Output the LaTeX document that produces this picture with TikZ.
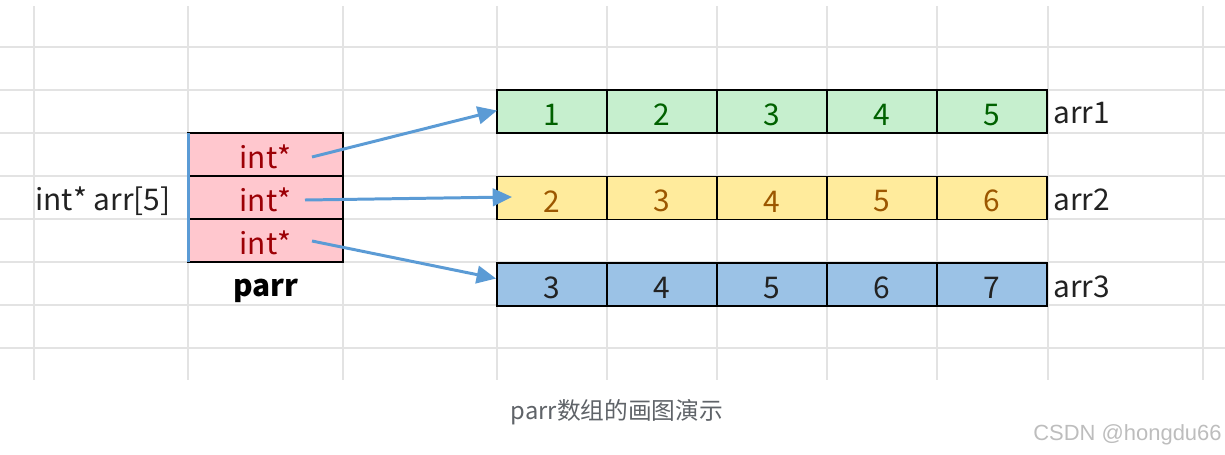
\documentclass[tikz,border=0pt]{standalone}
\usepackage{fontspec}
\setmainfont{Noto Sans CJK SC}
\newfontfamily\markfont{Liberation Sans}
\usetikzlibrary{positioning, arrows.meta, calc}

\definecolor{gridgray}{HTML}{E3E3E3}
\definecolor{ptrblue}{HTML}{5B9BD5}
\definecolor{badfill}{HTML}{FFC7CE}
\definecolor{badtext}{HTML}{9C0006}
\definecolor{goodfill}{HTML}{C6EFCE}
\definecolor{goodtext}{HTML}{006100}
\definecolor{neutfill}{HTML}{FFEB9C}
\definecolor{neuttext}{HTML}{9C5700}
\definecolor{bluefill}{HTML}{9BC2E6}
\definecolor{inktext}{HTML}{222222}
\definecolor{capgray}{HTML}{5F6368}
\definecolor{markgray}{HTML}{BDBDBD}

\begin{document}
\begin{tikzpicture}[x=0.02cm, y=-0.02cm,
    cell/.style={draw, line width=0.8pt, inner sep=0pt, outer sep=0pt,
        minimum width=2.2cm, minimum height=0.86cm, text height=16pt,
        font=\fontsize{17}{20}\selectfont},
    ptrcell/.style={cell, minimum width=3.1cm, fill=badfill, text=badtext},
    label/.style={inner sep=0pt, text=inktext, font=\fontsize{17}{20}\selectfont},
    ptr/.style={ptrblue, line width=1.7pt, -{Triangle[length=11pt, width=10pt]}}]
    \useasboundingbox (0,0) rectangle (1225,454);

    % Grid of the sheet
    \foreach \y in {47,90,...,348}
        \draw[gridgray, line width=0.8pt] (0,\y) -- (1225,\y);
    \foreach \x in {34,188,343,497,607,717,827,937,1048,1203}
        \draw[gridgray, line width=0.8pt] (\x,6) -- (\x,380);

    % Pointer array parr
    \node[ptrcell] (p1) at (265.5,154.5) {int*};
    \node[ptrcell, below=0pt of p1] (p2) {int*};
    \node[ptrcell, below=0pt of p2] (p3) {int*};
    \draw[ptrblue, line width=1.7pt] (p1.north west) -- (p3.south west);
    \node[label, font=\fontsize{17}{20}\selectfont\bfseries, text=black] (parr) at (266,291) {parr};
    \node[label, anchor=east] (decl) at (171,201) {int* arr[5]};

    % The three int arrays
    \foreach \v [count=\i] in {1,2,3,4,5}
        \node[cell, fill=goodfill, text=goodtext] (a\i) at ({442+110*\i},111.5) {\v};
    \foreach \v [count=\i] in {2,3,4,5,6}
        \node[cell, fill=neutfill, text=neuttext] (b\i) at ({442+110*\i},198) {\v};
    \foreach \v [count=\i] in {3,4,5,6,7}
        \node[cell, fill=bluefill, text=inktext] (c\i) at ({442+110*\i},284.5) {\v};
    \node[label, anchor=west] (arr1) at ($(a5.east)+(6,2)$) {arr1};
    \node[label, anchor=west] (arr2) at ($(b5.east)+(6,2)$) {arr2};
    \node[label, anchor=west] (arr3) at ($(c5.east)+(6,2)$) {arr3};

    % Pointers
    \coordinate (s1) at (312,157);
    \coordinate (s2) at (305,200);
    \coordinate (s3) at (312,241);
    \draw[ptr] (s1) -- ($(a1.west)+(0,-1)$);
    \draw[ptr] (s2) -- ($(b1.west)+(15,-1)$);
    \draw[ptr] (s3) -- ($(c1.west)+(-1,-6)$);

    % Caption and mark
    \node[inner sep=0pt, text=capgray, font=\fontsize{13.5}{16}\selectfont] (caption) at (617,412) {parr数组的画图演示};
    \node[inner sep=0pt, anchor=east, text=markgray, font=\markfont\fontsize{12.5}{15}\selectfont] (mark) at (1222,435) {CSDN @hongdu66};
\end{tikzpicture}
\end{document}
